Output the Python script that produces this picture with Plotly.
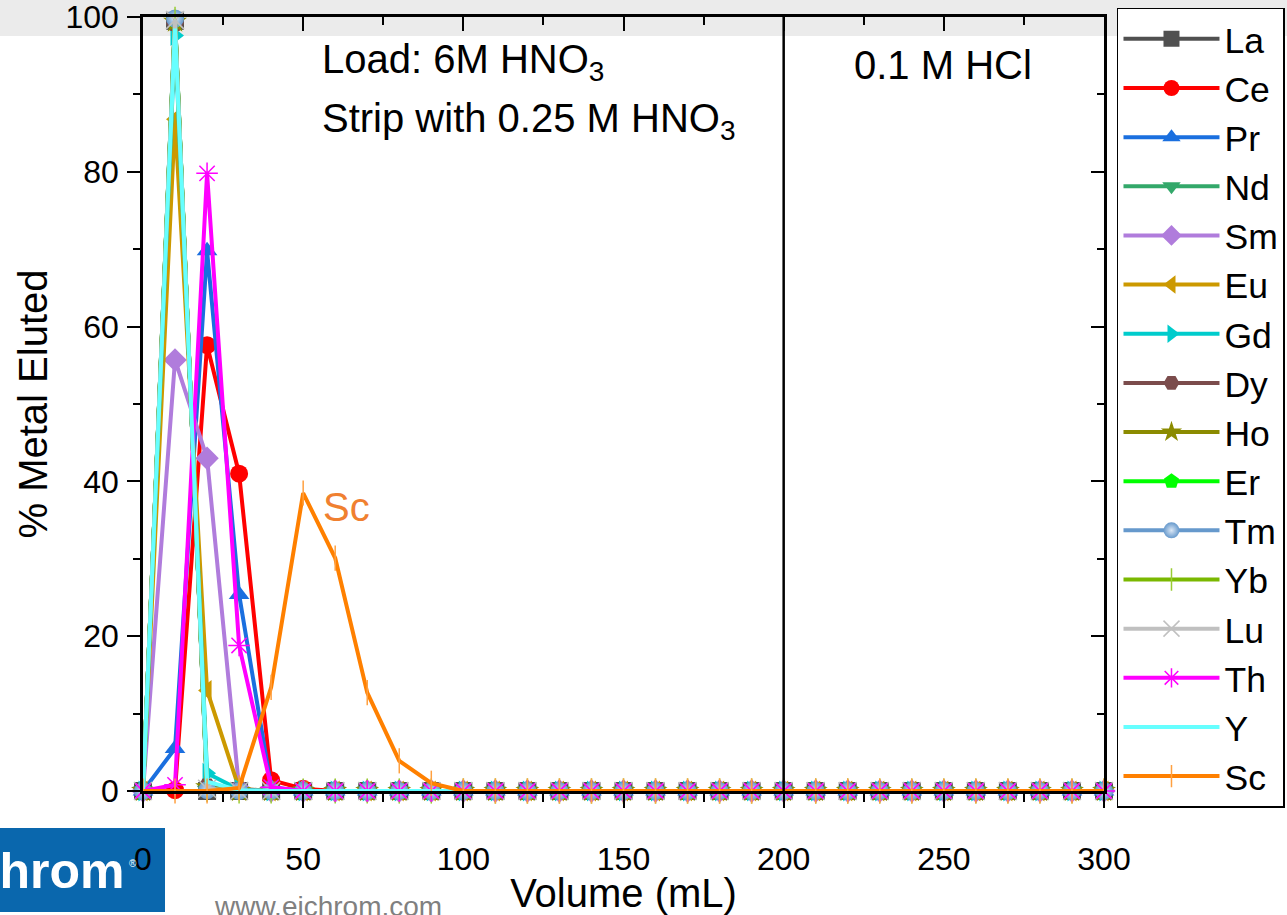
import plotly.graph_objects as go

volume = [0, 10, 20, 30, 40, 50, 60, 70, 80, 90, 100, 110, 120, 130, 140, 150,
          160, 170, 180, 190, 200, 210, 220, 230, 240, 250, 260, 270, 280, 290, 300]

La = [0, 99.5, 0, 0, 0, 0, 0, 0, 0, 0, 0, 0, 0, 0, 0, 0, 0, 0, 0, 0, 0, 0, 0, 0, 0, 0, 0, 0, 0, 0, 0]
Ce = [0, 0.1, 57.6, 41.0, 1.4, 0.3, 0, 0, 0, 0, 0, 0, 0, 0, 0, 0, 0, 0, 0, 0, 0, 0, 0, 0, 0, 0, 0, 0, 0, 0, 0]
Pr = [0, 5.5, 69.8, 25.4, 0.5, 0, 0, 0, 0, 0, 0, 0, 0, 0, 0, 0, 0, 0, 0, 0, 0, 0, 0, 0, 0, 0, 0, 0, 0, 0, 0]
Nd = [0, 99.8, 0.1, 0, 0, 0, 0, 0, 0, 0, 0, 0, 0, 0, 0, 0, 0, 0, 0, 0, 0, 0, 0, 0, 0, 0, 0, 0, 0, 0, 0]
Sm = [0, 55.7, 43.0, 0.3, 0, 0, 0, 0, 0, 0, 0, 0, 0, 0, 0, 0, 0, 0, 0, 0, 0, 0, 0, 0, 0, 0, 0, 0, 0, 0, 0]
Eu = [0, 86.8, 13.0, 0.3, 0, 0, 0, 0, 0, 0, 0, 0, 0, 0, 0, 0, 0, 0, 0, 0, 0, 0, 0, 0, 0, 0, 0, 0, 0, 0, 0]
Gd = [0, 97.6, 2.3, 0.2, 0, 0, 0, 0, 0, 0, 0, 0, 0, 0, 0, 0, 0, 0, 0, 0, 0, 0, 0, 0, 0, 0, 0, 0, 0, 0, 0]
Dy = [0, 99.2, 0.6, 0.1, 0, 0, 0, 0, 0, 0, 0, 0, 0, 0, 0, 0, 0, 0, 0, 0, 0, 0, 0, 0, 0, 0, 0, 0, 0, 0, 0]
Ho = [0, 99.4, 0.5, 0, 0, 0, 0, 0, 0, 0, 0, 0, 0, 0, 0, 0, 0, 0, 0, 0, 0, 0, 0, 0, 0, 0, 0, 0, 0, 0, 0]
Er = [0, 99.7, 0.2, 0, 0, 0, 0, 0, 0, 0, 0, 0, 0, 0, 0, 0, 0, 0, 0, 0, 0, 0, 0, 0, 0, 0, 0, 0, 0, 0, 0]
Tm = [0, 99.8, 0.1, 0, 0, 0, 0, 0, 0, 0, 0, 0, 0, 0, 0, 0, 0, 0, 0, 0, 0, 0, 0, 0, 0, 0, 0, 0, 0, 0, 0]
Yb = [0, 99.7, 0.2, 0, 0, 0, 0, 0, 0, 0, 0, 0, 0, 0, 0, 0, 0, 0, 0, 0, 0, 0, 0, 0, 0, 0, 0, 0, 0, 0, 0]
Lu = [0, 99.6, 0.3, 0, 0, 0, 0, 0, 0, 0, 0, 0, 0, 0, 0, 0, 0, 0, 0, 0, 0, 0, 0, 0, 0, 0, 0, 0, 0, 0, 0]
Th = [0, 0.8, 79.8, 18.8, 0.5, 0, 0, 0, 0, 0, 0, 0, 0, 0, 0, 0, 0, 0, 0, 0, 0, 0, 0, 0, 0, 0, 0, 0, 0, 0, 0]
Y  = [0, 98.5, 1.2, 0.1, 0, 0, 0, 0, 0, 0, 0, 0, 0, 0, 0, 0, 0, 0, 0, 0, 0, 0, 0, 0, 0, 0, 0, 0, 0, 0, 0]
Sc = [0, 0, 0, 0.4, 13.4, 38.5, 30.1, 12.7, 3.9, 1.0, 0, 0, 0, 0, 0, 0, 0, 0, 0, 0, 0, 0, 0, 0, 0, 0, 0, 0, 0, 0, 0]

series_names = ["La", "Ce", "Pr", "Nd", "Sm", "Eu", "Gd", "Dy", "Ho", "Er", "Tm", "Yb", "Lu", "Th", "Y", "Sc"]
series_values = [La, Ce, Pr, Nd, Sm, Eu, Gd, Dy, Ho, Er, Tm, Yb, Lu, Th, Y, Sc]
line_colors = ["#505050", "#FF0000", "#1A6FDF", "#33A86A", "#B07CDC", "#CC9900", "#00CCCC", "#7B4C4C",
               "#8B8B00", "#00FF00", "#6699CC", "#7AB800", "#C0C0C0", "#FF00FF", "#66FFFF", "#FF8000"]
marker_colors = ["#505050", "#FF0000", "#1A6FDF", "#33A86A", "#B07CDC", "#CC9900", "#00CCCC", "#7B4C4C",
                 "#8B8B00", "#00FF00", "#6699CC", "#99CC33", "#C0C0C0", "#FF00FF", "#66FFFF", "#FFA040"]
symbols = ["square", "circle", "triangle-up", "triangle-down", "diamond", "triangle-left", "triangle-right",
           "hexagon2", "star", "pentagon", "circle", "line-ns", "x-thin", "asterisk", None, "line-ns"]

FONT = "Liberation Sans, Arial, sans-serif"

fig = go.Figure()
for name, vals, lc, mc, sym in zip(series_names, series_values, line_colors, marker_colors, symbols):
    if sym is None:
        fig.add_trace(go.Scatter(x=volume, y=vals, name=name, mode="lines",
                                 line=dict(color=lc, width=4), cliponaxis=False))
    elif sym in ("line-ns", "x-thin", "asterisk"):
        fig.add_trace(go.Scatter(x=volume, y=vals, name=name, mode="lines+markers",
                                 line=dict(color=lc, width=4),
                                 marker=dict(symbol=sym, size=18, color=mc, line=dict(color=mc, width=1.5)),
                                 cliponaxis=False))
    else:
        mk = dict(symbol=sym, size=18, color=mc, line=dict(width=0))
        if name == "Tm":
            mk["gradient"] = dict(type="radial", color="#DCE8F6")
        fig.add_trace(go.Scatter(x=volume, y=vals, name=name, mode="lines+markers",
                                 line=dict(color=lc, width=4), marker=mk, cliponaxis=False))

# invisible helper trace so that the mirrored top/right frame axes get drawn
fig.add_trace(go.Scatter(x=volume, y=Sc, xaxis="x2", yaxis="y2", mode="lines",
                         line=dict(width=0, color="rgba(0,0,0,0)"), showlegend=False, hoverinfo="skip"))

axis_common = dict(showgrid=False, zeroline=False, showline=True, linecolor="black", linewidth=2.5,
                   tickcolor="black", tickwidth=2)

fig.update_layout(
    width=1287, height=915, autosize=False,
    margin=dict(l=143, r=183, t=17, b=124, autoexpand=False),
    paper_bgcolor="white", plot_bgcolor="rgba(0,0,0,0)",
    font=dict(family=FONT, color="black", size=32),
    xaxis=dict(range=[0, 300], tickvals=[0, 50, 100, 150, 200, 250, 300], ticks="outside", ticklen=14,
               minor=dict(dtick=25, ticks="outside", ticklen=8, tickcolor="black", tickwidth=2),
               tickfont=dict(size=32, family=FONT), ticklabelstandoff=24,
               title=dict(text="Volume (mL)", font=dict(size=40, family=FONT), standoff=9),
               **axis_common),
    yaxis=dict(range=[0, 100], tickvals=[0, 20, 40, 60, 80, 100], ticks="outside", ticklen=13,
               minor=dict(dtick=10, ticks="outside", ticklen=7, tickcolor="black", tickwidth=2),
               tickfont=dict(size=32, family=FONT), ticklabelstandoff=2, ticklabeloverflow="allow",
               title=dict(text="% Metal Eluted", font=dict(size=40, family=FONT), standoff=6),
               **axis_common),
    xaxis2=dict(range=[0, 300], overlaying="x", anchor="y2", side="top", tickvals=[0, 50, 100, 150, 200, 250, 300],
                ticks="inside", ticklen=14, showticklabels=False,
                minor=dict(dtick=25, ticks="inside", ticklen=8, tickcolor="black", tickwidth=2),
                **axis_common),
    yaxis2=dict(range=[0, 100], overlaying="y", anchor="x2", side="right", tickvals=[0, 20, 40, 60, 80, 100],
                ticks="inside", ticklen=13, showticklabels=False,
                minor=dict(dtick=10, ticks="inside", ticklen=7, tickcolor="black", tickwidth=2),
                **axis_common),
    legend=dict(xref="container", yref="container", x=0.8679, y=0.9915, xanchor="left", yanchor="top",
                bgcolor="white", bordercolor="black", borderwidth=1.5, font=dict(size=35.5, family=FONT),
                itemwidth=96, tracegroupgap=0, maxheight=905),
    showlegend=True,
)

# grey header band, vertical separator, logo block
fig.add_shape(type="rect", xref="paper", yref="paper", x0=-0.16, x1=1.2, y0=0.9755, y1=1.03,
              fillcolor="#EBEBEB", line=dict(width=0), layer="below")
fig.add_shape(type="line", xref="x", yref="y", x0=200, x1=200, y0=0, y1=100,
              line=dict(color="black", width=2.5))
fig.add_shape(type="rect", xref="paper", yref="paper", x0=-0.16, x1=0.0229, y0=-0.1563, y1=-0.0478,
              fillcolor="#0A67AD", line=dict(width=0), layer="below")

fig.add_annotation(x=55.3, y=94.2, xref="x", yref="y", text="Load: 6M HNO<sub>3</sub>", showarrow=False,
                   xanchor="left", yanchor="middle", font=dict(size=40, family=FONT, color="black"))
fig.add_annotation(x=55.3, y=86.5, xref="x", yref="y", text="Strip with 0.25 M HNO<sub>3</sub>", showarrow=False,
                   xanchor="left", yanchor="middle", font=dict(size=40, family=FONT, color="black"))
fig.add_annotation(x=249.8, y=93.8, xref="x", yref="y", text="0.1 M HCl", showarrow=False,
                   xanchor="center", yanchor="middle", font=dict(size=40, family=FONT, color="black"))
fig.add_annotation(x=55.5, y=36.7, xref="x", yref="y", text="Sc", showarrow=False,
                   xanchor="left", yanchor="middle", font=dict(size=40, family=FONT, color="#F08030"))
fig.add_annotation(x=-0.0166, y=-0.1034, xref="paper", yref="paper", text="<b>eichrom</b>", showarrow=False,
                   xanchor="right", yanchor="middle", font=dict(size=50, family=FONT, color="white"))
fig.add_annotation(x=-0.0104, y=-0.0935, xref="paper", yref="paper", text="®", showarrow=False,
                   xanchor="center", yanchor="middle", font=dict(size=10, family=FONT, color="white"))
fig.add_annotation(x=0.0718, y=-0.1486, xref="paper", yref="paper", text="www.eichrom.com", showarrow=False,
                   xanchor="left", yanchor="middle", font=dict(size=28, family=FONT, color="#808080"))

fig.write_html("out.html")
